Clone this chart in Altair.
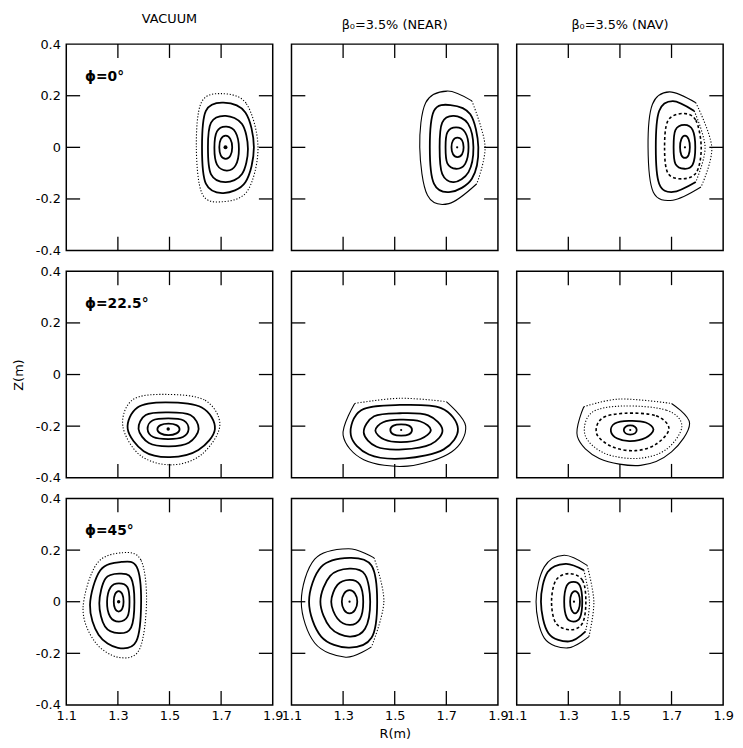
import altair as alt
import pandas as pd

# ---------------- axes / labels ----------------
X_DOMAIN = [1.1, 1.9]
Y_DOMAIN = [-0.4, 0.4]
X_LABELS = [1.1, 1.3, 1.5, 1.7, 1.9]
Y_LABELS = [-0.4, -0.2, 0.0, 0.2, 0.4]
X_TICKS = [1.3, 1.5, 1.7]
Y_TICKS = [-0.2, 0.0, 0.2]
COLUMN_TITLES = ["VACUUM", "β₀=3.5% (NEAR)", "β₀=3.5% (NAV)"]
ROW_LABELS = ["ϕ=0°", "ϕ=22.5°", "ϕ=45°"]

# ---------------- flux surfaces ----------------
# each curve: (line kind, indices drawn dotted or None, points T,TR,R,BR,B,BL,L,TL as (R, Z))
VAC_0 = [
    ("dotted", None, [(1.702, 0.208), (1.798, 0.169), (1.843, 0.0), (1.802, -0.169), (1.702, -0.211), (1.626, -0.179), (1.604, 0.0), (1.623, 0.173)]),
    ("solid", None, [(1.709, 0.173), (1.794, 0.135), (1.827, 0.0), (1.794, -0.135), (1.709, -0.177), (1.641, -0.141), (1.626, 0.0), (1.641, 0.141)]),
    ("solid", None, [(1.718, 0.122), (1.781, 0.090), (1.804, -0.006), (1.781, -0.103), (1.718, -0.135), (1.661, -0.105), (1.649, 0.0), (1.661, 0.096)]),
    ("solid", None, [(1.721, 0.080), (1.756, 0.058), (1.769, -0.006), (1.756, -0.070), (1.721, -0.090), (1.684, -0.067), (1.674, -0.003), (1.684, 0.062)]),
    ("solid", None, [(1.718, 0.045), (1.736, 0.032), (1.743, 0.0), (1.736, -0.032), (1.718, -0.045), (1.699, -0.032), (1.693, 0.0), (1.699, 0.032)]),
]
NEAR_0 = [
    ("thin", [1, 2, 3], [(1.703, 0.218), (1.799, 0.180), (1.850, 0.006), (1.818, -0.141), (1.710, -0.218), (1.627, -0.186), (1.597, 0.0), (1.620, 0.173)]),
    ("solid", None, [(1.716, 0.164), (1.793, 0.128), (1.824, 0.0), (1.799, -0.122), (1.716, -0.173), (1.652, -0.141), (1.636, 0.0), (1.652, 0.141)]),
    ("solid", None, [(1.729, 0.122), (1.784, 0.092), (1.805, 0.0), (1.786, -0.096), (1.729, -0.135), (1.684, -0.103), (1.674, 0.0), (1.684, 0.096)]),
    ("solid", None, [(1.738, 0.077), (1.773, 0.058), (1.786, 0.0), (1.773, -0.064), (1.738, -0.083), (1.704, -0.062), (1.697, 0.0), (1.704, 0.058)]),
    ("solid", None, [(1.743, 0.038), (1.761, 0.027), (1.767, 0.0), (1.761, -0.027), (1.743, -0.038), (1.726, -0.027), (1.720, 0.0), (1.726, 0.027)]),
]
NAV_0 = [
    ("thin", [1, 2, 3], [(1.692, 0.215), (1.794, 0.173), (1.856, 0.0), (1.814, -0.154), (1.705, -0.205), (1.629, -0.173), (1.609, 0.0), (1.626, 0.167)]),
    ("solid", [1, 2, 3], [(1.705, 0.179), (1.788, 0.141), (1.830, 0.0), (1.794, -0.134), (1.705, -0.173), (1.652, -0.141), (1.639, 0.0), (1.652, 0.141)]),
    ("dashed", None, [(1.743, 0.131), (1.794, 0.105), (1.815, 0.0), (1.797, -0.096), (1.743, -0.122), (1.686, -0.100), (1.673, 0.0), (1.686, 0.103)]),
    ("solid", None, [(1.750, 0.087), (1.782, 0.067), (1.792, 0.0), (1.782, -0.067), (1.750, -0.083), (1.715, -0.064), (1.708, 0.0), (1.715, 0.067)]),
    ("solid", None, [(1.752, 0.045), (1.766, 0.032), (1.771, 0.0), (1.766, -0.030), (1.752, -0.041), (1.738, -0.030), (1.733, 0.0), (1.738, 0.032)]),
]
VAC_22 = [
    ("dotted", None, [(1.485, -0.077), (1.638, -0.100), (1.695, -0.199), (1.622, -0.312), (1.505, -0.350), (1.385, -0.312), (1.319, -0.199), (1.357, -0.098)]),
    ("solid", None, [(1.485, -0.108), (1.625, -0.128), (1.676, -0.211), (1.612, -0.292), (1.502, -0.320), (1.400, -0.297), (1.338, -0.211), (1.376, -0.128)]),
    ("solid", None, [(1.491, -0.147), (1.581, -0.157), (1.613, -0.211), (1.575, -0.264), (1.498, -0.278), (1.420, -0.265), (1.380, -0.211), (1.408, -0.157)]),
    ("solid", None, [(1.495, -0.170), (1.555, -0.178), (1.574, -0.211), (1.552, -0.242), (1.495, -0.250), (1.437, -0.242), (1.415, -0.211), (1.434, -0.178)]),
    ("solid", None, [(1.496, -0.190), (1.527, -0.196), (1.539, -0.212), (1.527, -0.228), (1.496, -0.235), (1.465, -0.228), (1.453, -0.212), (1.465, -0.196)]),
]
NEAR_22 = [
    ("thin", [7, 0, 1], [(1.520, -0.092), (1.700, -0.105), (1.775, -0.200), (1.720, -0.300), (1.550, -0.355), (1.380, -0.330), (1.300, -0.235), (1.345, -0.112)]),
    ("solid", None, [(1.520, -0.118), (1.680, -0.130), (1.745, -0.210), (1.690, -0.290), (1.540, -0.325), (1.400, -0.310), (1.330, -0.235), (1.370, -0.138)]),
    ("solid", None, [(1.520, -0.150), (1.630, -0.158), (1.685, -0.215), (1.640, -0.270), (1.530, -0.290), (1.430, -0.280), (1.380, -0.225), (1.420, -0.162)]),
    ("solid", None, [(1.520, -0.175), (1.600, -0.182), (1.640, -0.215), (1.600, -0.250), (1.525, -0.262), (1.460, -0.252), (1.425, -0.218), (1.455, -0.185)]),
    ("solid", None, [(1.525, -0.193), (1.555, -0.198), (1.567, -0.215), (1.555, -0.232), (1.525, -0.237), (1.495, -0.232), (1.483, -0.215), (1.495, -0.198)]),
]
NAV_22 = [
    ("thin", [7, 0, 1], [(1.500, -0.095), (1.700, -0.112), (1.770, -0.190), (1.700, -0.300), (1.580, -0.352), (1.420, -0.325), (1.335, -0.240), (1.360, -0.125)]),
    ("dotted", None, [(1.510, -0.122), (1.680, -0.138), (1.740, -0.200), (1.680, -0.290), (1.570, -0.325), (1.440, -0.305), (1.365, -0.235), (1.390, -0.148)]),
    ("dashed", None, [(1.520, -0.150), (1.640, -0.160), (1.690, -0.210), (1.640, -0.270), (1.560, -0.295), (1.470, -0.280), (1.410, -0.230), (1.430, -0.170)]),
    ("solid", None, [(1.535, -0.180), (1.600, -0.186), (1.630, -0.213), (1.600, -0.245), (1.540, -0.258), (1.490, -0.248), (1.465, -0.220), (1.480, -0.190)]),
    ("solid", None, [(1.540, -0.197), (1.558, -0.202), (1.565, -0.215), (1.558, -0.228), (1.540, -0.233), (1.522, -0.228), (1.515, -0.215), (1.522, -0.202)]),
]
VAC_45 = [
    ("dotted", None, [(1.319, 0.190), (1.390, 0.160), (1.411, 0.0), (1.383, -0.186), (1.300, -0.215), (1.210, -0.154), (1.165, -0.026), (1.218, 0.147)]),
    ("solid", None, [(1.313, 0.154), (1.373, 0.135), (1.390, 0.0), (1.371, -0.154), (1.300, -0.179), (1.225, -0.128), (1.192, -0.013), (1.232, 0.122)]),
    ("solid", None, [(1.307, 0.109), (1.351, 0.092), (1.364, 0.0), (1.351, -0.100), (1.304, -0.122), (1.250, -0.096), (1.228, -0.006), (1.252, 0.090)]),
    ("solid", None, [(1.304, 0.071), (1.337, 0.056), (1.345, 0.0), (1.337, -0.058), (1.304, -0.077), (1.270, -0.058), (1.258, 0.0), (1.272, 0.056)]),
    ("solid", None, [(1.303, 0.041), (1.317, 0.029), (1.322, 0.0), (1.317, -0.027), (1.303, -0.038), (1.289, -0.027), (1.284, 0.0), (1.289, 0.029)]),
]
NEAR_45 = [
    ("thin", [1, 2, 3], [(1.320, 0.205), (1.420, 0.170), (1.458, 0.0), (1.410, -0.175), (1.310, -0.215), (1.190, -0.160), (1.138, 0.0), (1.190, 0.165)]),
    ("solid", None, [(1.325, 0.170), (1.410, 0.140), (1.432, 0.0), (1.410, -0.140), (1.320, -0.178), (1.215, -0.135), (1.168, 0.0), (1.215, 0.135)]),
    ("solid", None, [(1.325, 0.128), (1.385, 0.105), (1.405, 0.0), (1.385, -0.105), (1.325, -0.135), (1.250, -0.100), (1.212, 0.0), (1.250, 0.100)]),
    ("solid", None, [(1.325, 0.085), (1.365, 0.066), (1.378, 0.0), (1.365, -0.068), (1.325, -0.090), (1.278, -0.065), (1.254, 0.0), (1.278, 0.065)]),
    ("solid", None, [(1.325, 0.045), (1.346, 0.032), (1.355, 0.0), (1.346, -0.032), (1.325, -0.045), (1.304, -0.032), (1.295, 0.0), (1.304, 0.032)]),
]
NAV_45 = [
    ("thin", [1, 2, 3], [(1.284, 0.180), (1.373, 0.141), (1.399, 0.0), (1.380, -0.135), (1.297, -0.179), (1.207, -0.141), (1.175, 0.0), (1.207, 0.135)]),
    ("solid", [1, 2, 3], [(1.290, 0.147), (1.360, 0.122), (1.382, 0.0), (1.367, -0.115), (1.303, -0.154), (1.223, -0.122), (1.194, 0.0), (1.220, 0.115)]),
    ("dashed", None, [(1.303, 0.109), (1.355, 0.083), (1.368, 0.0), (1.355, -0.083), (1.309, -0.109), (1.252, -0.083), (1.235, 0.0), (1.252, 0.083)]),
    ("solid", None, [(1.320, 0.077), (1.345, 0.062), (1.354, 0.0), (1.345, -0.062), (1.320, -0.077), (1.294, -0.062), (1.284, 0.0), (1.294, 0.062)]),
    ("solid", None, [(1.326, 0.041), (1.340, 0.029), (1.345, 0.0), (1.340, -0.031), (1.326, -0.045), (1.312, -0.031), (1.307, 0.0), (1.312, 0.029)]),
]
# magnetic axis positions (R, Z)
AXIS_R = [[1.717, 1.742, 1.752], [1.495, 1.525, 1.540], [1.303, 1.325, 1.322]]
AXIS_Z = [[0.0, 0.0, 0.0], [-0.211, -0.215, -0.215], [0.0, 0.0, 0.0]]
AXIS_SIZE = [[16, 5, 5], [12, 5, 5], [12, 5, 5]]

PANELS = [[VAC_0, NEAR_0, NAV_0], [VAC_22, NEAR_22, NAV_22], [VAC_45, NEAR_45, NAV_45]]

# ---------------- style ----------------
W, H = 209, 209
TICK = 14
FONT = "DejaVu Sans"
STYLE = {
    "solid": dict(strokeWidth=1.8),
    "thin": dict(strokeWidth=1.1),
    "dotted": dict(strokeWidth=1.1, strokeDash=[1.2, 1.8]),
    "dashed": dict(strokeWidth=1.6, strokeDash=[3, 2.5]),
}

rows = []
for pr, prow in enumerate(PANELS):
    for pc, curves in enumerate(prow):
        pid = f"p{pr}{pc}"
        for ci, (kind, dotted, pts) in enumerate(curves):
            n = len(pts)
            if dotted is None:
                segs = [(kind, "closed", list(range(n)))]
            else:
                i0, i1 = dotted[0], dotted[-1]
                solid_idx = [(i1 + j) % n for j in range((i0 - i1) % n + 1)]
                segs = [(kind, "open", solid_idx), ("dotted", "open", list(dotted))]
            for si, (k2, interp, idx) in enumerate(segs):
                for order, i in enumerate(idx):
                    rows.append(dict(panel=pid, seg=f"{pid}-{ci}-{si}", kind=k2,
                                     interp=interp, k=order, R=pts[i][0], Z=pts[i][1]))
df = pd.DataFrame(rows)
ticks_x = pd.DataFrame({"t": X_TICKS})
ticks_y = pd.DataFrame({"t": Y_TICKS})

xscale = alt.Scale(domain=X_DOMAIN, nice=False, zero=False)
yscale = alt.Scale(domain=Y_DOMAIN, nice=False, zero=False)
LABEL_EXPR = "replace(format(datum.value, '.1~f'), '\u2212', '-')"


def panel(pr, pc):
    pid = f"p{pr}{pc}"
    xt = "R(m)" if (pr == 2 and pc == 1) else ""
    yt = "Z(m)" if (pr == 1 and pc == 0) else ""
    xaxis = (alt.Axis(values=X_LABELS, labelExpr=LABEL_EXPR, title=xt,
                      labelPadding=5, titlePadding=5) if pr == 2 else None)
    yaxis = (alt.Axis(values=Y_LABELS, labelExpr=LABEL_EXPR, title=yt,
                      labelPadding=6, titlePadding=10) if pc == 0 else None)

    def X(f):
        return alt.X(f, scale=xscale, axis=xaxis, title=xt)

    def Y(f):
        return alt.Y(f, scale=yscale, axis=yaxis, title=yt)

    layers = []
    sub = df[df.panel == pid]
    for kind, st in STYLE.items():
        for interp in ["closed", "open"]:
            part = sub[(sub.kind == kind) & (sub.interp == interp)]
            if len(part) == 0:
                continue
            layers.append(
                alt.Chart(part).mark_line(
                    color="black",
                    interpolate="cardinal-closed" if interp == "closed" else "cardinal",
                    **st,
                ).encode(x=X("R:Q"), y=Y("Z:Q"), detail="seg:N", order="k:Q")
            )
    center = pd.DataFrame({"R": [AXIS_R[pr][pc]], "Z": [AXIS_Z[pr][pc]]})
    layers.append(
        alt.Chart(center).mark_circle(color="black", opacity=1, size=AXIS_SIZE[pr][pc])
        .encode(x=X("R:Q"), y=Y("Z:Q"))
    )
    tick_style = dict(color="black", strokeWidth=1.3)
    layers.append(alt.Chart(ticks_x).mark_rule(**tick_style).encode(
        x=X("t:Q"), y=alt.value(H), y2=alt.value(H - TICK)))
    layers.append(alt.Chart(ticks_x).mark_rule(**tick_style).encode(
        x=X("t:Q"), y=alt.value(0), y2=alt.value(TICK)))
    layers.append(alt.Chart(ticks_y).mark_rule(**tick_style).encode(
        y=Y("t:Q"), x=alt.value(0), x2=alt.value(TICK)))
    layers.append(alt.Chart(ticks_y).mark_rule(**tick_style).encode(
        y=Y("t:Q"), x=alt.value(W), x2=alt.value(W - TICK)))
    if pc == 0:
        lab = pd.DataFrame({"label": [ROW_LABELS[pr]]})
        layers.append(alt.Chart(lab).mark_text(
            align="left", baseline="middle", font=FONT, fontSize=14,
            fontWeight="bold", color="black").encode(
            x=alt.value(19), y=alt.value(33), text="label:N"))
    ch = alt.layer(*layers).properties(width=W, height=H)
    if pr == 0:
        ch = ch.properties(title=alt.TitleParams(COLUMN_TITLES[pc], offset=12))
    return ch


grid = alt.concat(
    *[panel(r, c) for r in range(3) for c in range(3)],
    columns=3, spacing={"row": 21, "column": 19}, bounds="flush",
).properties(padding={"left": 3, "top": 0, "right": 0, "bottom": 0})

chart = grid.configure_view(stroke="black", strokeWidth=1.5).configure_axis(
    labelFont=FONT, labelFontSize=13, labelColor="black", domain=False,
    ticks=False, grid=False, labelFlush=False,
    titleFont=FONT, titleFontSize=13, titleFontWeight="normal",
    titleColor="black",
).configure_title(font=FONT, fontSize=13, fontWeight="normal", color="black",
                  anchor="middle")

chart.save("out.html", embed_options={"renderer": "svg", "actions": False})
